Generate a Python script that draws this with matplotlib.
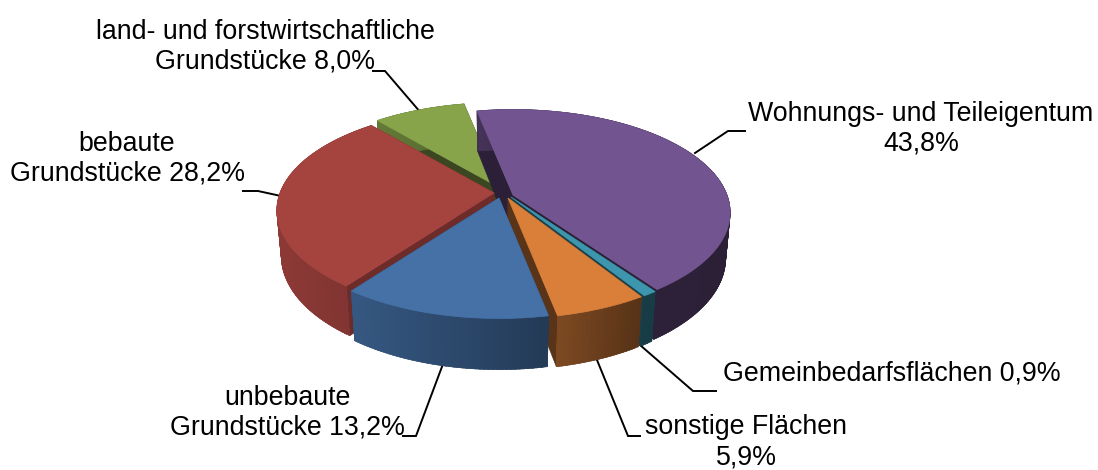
import numpy as np
import matplotlib
matplotlib.use("Agg")
import matplotlib.pyplot as plt
from matplotlib.patches import Polygon

# ---- data (clockwise from the top, in the chart's order)
categories = ["Wohnungs- und Teileigentum", "Gemeinbedarfsflächen", "sonstige Flächen",
              "unbebaute Grundstücke", "bebaute Grundstücke",
              "land- und forstwirtschaftliche Grundstücke"]
values = [43.8, 0.9, 5.9, 13.2, 28.2, 8.0]
label_texts = ["Wohnungs- und Teileigentum\n43,8%", "Gemeinbedarfsflächen 0,9%",
               "sonstige Flächen\n5,9%", "unbebaute\nGrundstücke 13,2%",
               "bebaute\nGrundstücke 28,2%",
               "land- und forstwirtschaftliche\nGrundstücke 8,0%"]

# ---- styles / layout
colors = ["#725490", "#3d96ae", "#d97f3a", "#4571a7", "#a5433f", "#87a44b"]
cut_shade = [0.38, 0.42, 0.41, 0.5, 0.66, 0.43]
apex_x = [513, 511, 508, 499, 494, 500]
apex_y = [195, 197, 198, 198, 193, 188]
label_xy = [(921, 129), (892, 374), (746, 442.5), (287, 413), (127, 159), (265, 47)]
leaders = [[(745, 131), (728, 131), (695, 153)],
           [(716, 391), (693, 391), (640, 345)],
           [(640, 436), (628, 436), (597, 360)],
           [(403, 436), (416, 436), (443, 364)],
           [(243, 191), (258, 191), (281, 196)],
           [(373, 71), (385, 71), (421, 113)]]
draw_order = [5, 0, 1, 4, 2, 3]
START = -11.3
RX, RY, K = 214.0, 100.0, 0.17
DEPTH, SHRINK = 45.0, 0.98
WARP = 2.0
shade_x = [285, 355, 545, 555, 640, 730]
shade_f = [0.85, 0.77, 0.52, 0.58, 0.40, 0.38]

plt.rcParams["font.family"] = ["Liberation Sans", "DejaVu Sans"]
fig = plt.figure(figsize=(10.98, 4.70), dpi=100)
ax = fig.add_axes([0, 0, 1, 1])
ax.set_xlim(0, 1098)
ax.set_ylim(470, 0)
ax.axis("off")


def project(theta, cx, cy, r=1.0, drop=0.0):
    t = np.radians(theta - WARP * np.sin(np.radians(theta) / 2) ** 2)
    u, v = r * np.sin(t), r * np.cos(t)
    den = 1 + K * v
    return cx + RX * u / den, cy - RY * v / den + drop / den


def rgb(c):
    return np.array(matplotlib.colors.to_rgb(c))


total = sum(values)
sweeps = [v / total * 360 for v in values]
starts = START + np.concatenate([[0], np.cumsum(sweeps)[:-1]])

for pts in leaders:
    xs, ys = zip(*pts)
    ax.plot(xs, ys, color="black", lw=1.4, zorder=1, solid_joinstyle="miter")

z = 2
for i in draw_order:
    a, b = starts[i], starts[i] + sweeps[i]
    th = np.linspace(a, b, max(int(sweeps[i] * 4), 6))
    cx, cy = apex_x[i], apex_y[i]
    base = rgb(colors[i])
    tx, ty = project(th, cx, cy)
    bx, by = project(th, cx, cy, SHRINK, DEPTH)
    # cut faces
    cut = np.clip(base * cut_shade[i], 0, 1)
    for k in (0, -1):
        ax.add_patch(Polygon([(cx, cy), (tx[k], ty[k]), (bx[k], by[k]), (cx, cy + DEPTH)],
                             closed=True, fc=cut, ec=cut, lw=0.5, zorder=z))
    z += 1
    # outer wall: strips overlap the next one so that no seams show
    n = len(th)
    step = 4
    for j in range(0, n - 1, step):
        e = min(j + step + 3, n - 1)
        poly = np.column_stack([np.r_[tx[j:e + 1], bx[j:e + 1][::-1]],
                                np.r_[ty[j:e + 1], by[j:e + 1][::-1]]])
        col = np.clip(base * np.interp(tx[j:e + 1].mean(), shade_x, shade_f), 0, 1)
        ax.add_patch(Polygon(poly, closed=True, fc=col, ec=col, lw=0.4, zorder=z))
        z += 1
    # top
    ax.add_patch(Polygon(np.column_stack([np.r_[cx, tx], np.r_[cy, ty]]), closed=True,
                         fc=base, ec=base, lw=0.5, zorder=z))
    z += 1

for txt, (x, y) in zip(label_texts, label_xy):
    ax.text(x, y, txt, ha="center", va="center", multialignment="center",
            fontsize=19.3, color="black", linespacing=1.2, zorder=1000)

fig.savefig("out.png", dpi=100)
